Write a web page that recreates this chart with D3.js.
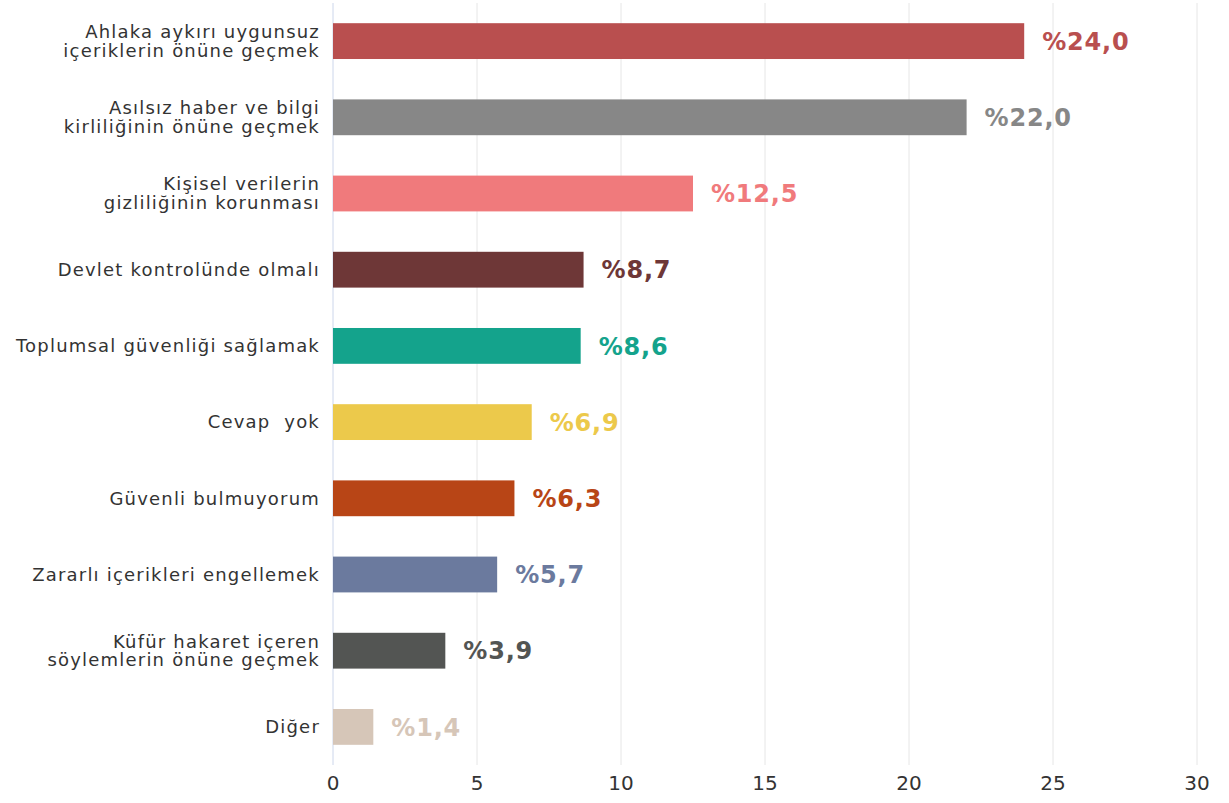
<!DOCTYPE html>
<html>
<head>
<meta charset="utf-8">
<script src="https://cdn.jsdelivr.net/npm/d3@7"></script>
<style>
  body { margin: 0; background: #fff; }
  text { font-family: "DejaVu Sans", "Noto Sans", sans-serif; }
</style>
</head>
<body>
<div id="chart"></div>
<script>
// categories (each entry is a list of label lines)
var categories = [
  ["Ahlaka aykırı uygunsuz", "içeriklerin önüne geçmek"],
  ["Asılsız haber ve bilgi", "kirliliğinin önüne geçmek"],
  ["Kişisel verilerin", "gizliliğinin korunması"],
  ["Devlet kontrolünde olmalı"],
  ["Toplumsal güvenliği sağlamak"],
  ["Cevap  yok"],
  ["Güvenli bulmuyorum"],
  ["Zararlı içerikleri engellemek"],
  ["Küfür hakaret içeren", "söylemlerin önüne geçmek"],
  ["Diğer"]
];
var values = [24.0, 22.0, 12.5, 8.7, 8.6, 6.9, 6.3, 5.7, 3.9, 1.4];
var colors = ["#b94f4f", "#878787", "#f07a7c", "#6e3737", "#14a38c",
              "#ecc94b", "#b84516", "#6b7a9e", "#535553", "#d6c6b8"];
var ticks = [0, 5, 10, 15, 20, 25, 30];

var w = 1229, h = 803;
var margin = {top: 3, right: 32, bottom: 38, left: 333};

var svg = d3.select("#chart").append("svg")
  .attr("width", w).attr("height", h);

var x = d3.scaleLinear().domain([0, 30]).range([margin.left, w - margin.right]);
var y = d3.scaleBand().domain(d3.range(categories.length))
  .range([margin.top, h - margin.bottom]).paddingInner(0.53).paddingOuter(0.265);

//Gridlines
svg.selectAll("line.grid")
  .data(ticks.slice(1))
  .enter().append("line")
  .attr("x1", function(d) { return x(d); })
  .attr("x2", function(d) { return x(d); })
  .attr("y1", margin.top)
  .attr("y2", h - margin.bottom)
  .attr("stroke", "#e6e6e6")
  .attr("stroke-width", 1);

//Axis line (vertical)
svg.append("line")
  .attr("x1", x(0)).attr("x2", x(0))
  .attr("y1", margin.top).attr("y2", h - margin.bottom)
  .attr("stroke", "#ccd6eb").attr("stroke-width", 1);

//Bars
svg.selectAll("rect.bar")
  .data(values)
  .enter().append("rect")
  .attr("x", x(0))
  .attr("y", function(d, i) { return y(i); })
  .attr("width", function(d) { return x(d) - x(0); })
  .attr("height", y.bandwidth())
  .attr("fill", function(d, i) { return colors[i]; });

//Value labels
svg.selectAll("text.val")
  .data(values)
  .enter().append("text")
  .attr("x", function(d) { return x(d) + 18; })
  .attr("y", function(d, i) { return y(i) + y.bandwidth() / 2; })
  .attr("dy", "0.36em")
  .attr("fill", function(d, i) { return colors[i]; })
  .style("font-size", "24px")
  .style("font-weight", "bold")
  .style("letter-spacing", "0.8px")
  .text(function(d) { return "%" + d.toFixed(1).replace(".", ","); });

//Category labels
var cat = svg.selectAll("text.cat")
  .data(categories)
  .enter().append("text")
  .attr("text-anchor", "end")
  .attr("fill", "#333333")
  .style("font-size", "18px")
  .style("letter-spacing", "1.2px")
  .style("white-space", "pre")
  .attr("transform", function(d, i) {
    var cy = y(i) + y.bandwidth() / 2;
    return "translate(" + (x(0) - 13) + "," + (cy - (d.length - 1) * 9.5) + ")";
  });
cat.selectAll("tspan")
  .data(function(d) { return d; })
  .enter().append("tspan")
  .attr("x", 0)
  .attr("y", function(d, i) { return i * 19; })
  .attr("dy", "0.35em")
  .text(function(d) { return d; });

//Bottom tick labels
svg.selectAll("text.tick")
  .data(ticks)
  .enter().append("text")
  .attr("x", function(d) { return x(d); })
  .attr("y", h - 13)
  .attr("text-anchor", "middle")
  .attr("fill", "#333333")
  .style("font-size", "20px")
  .text(function(d) { return d; });
</script>
</body>
</html>
